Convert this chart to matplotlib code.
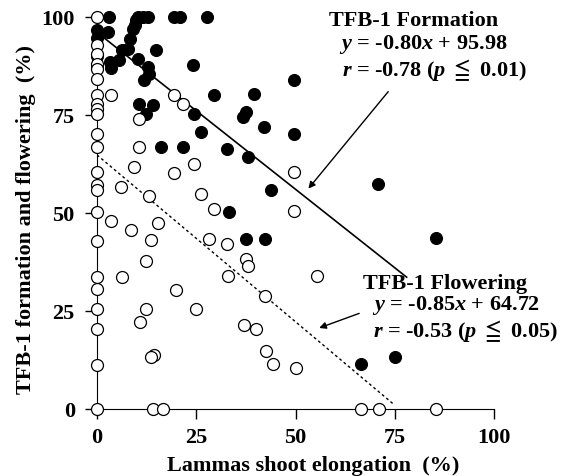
import matplotlib
matplotlib.use('Agg')
import matplotlib.pyplot as plt

plt.rcParams['font.family'] = ['Liberation Serif', 'DejaVu Serif']
plt.rcParams['font.weight'] = 'bold'
plt.rcParams['mathtext.fontset'] = 'custom'
plt.rcParams['mathtext.rm'] = 'Liberation Serif:bold'
plt.rcParams['mathtext.it'] = 'Liberation Serif:bold:italic'
plt.rcParams['mathtext.bf'] = 'Liberation Serif:bold'
plt.rcParams['mathtext.fallback'] = 'stix'

# TFB-1 formation (filled circles)
form_x = [0, 0, 0, 0,
          3, 10.4, 11.7, 12.9, 19.3, 21, 27.7,
          2.8, 3.2, 3.6, 5.6, 6.2, 7.7, 8.2, 9, 9.5, 9.9,
          14.9, 10.2, 12.8, 13.2, 11.9,
          24.1, 29.5, 10.7, 14, 12.3, 24.5, 26.2, 16.1, 21.6, 32.8,
          49.7, 39.6, 36.7, 37.5, 42.1, 49.7, 38, 43.8, 33.3,
          70.7, 37.5, 42.4, 66.5, 85.4, 75.1]
form_y = [96.5, 94.5, 90, 87.5,
          100, 100, 100, 100, 100, 100, 100,
          96, 88.4, 87, 88.8, 91.4, 91.8, 94.3, 96.9, 97.8, 99,
          91.4, 89.3, 87.1, 85.4, 83.7,
          87.6, 79.9, 77.8, 77.4, 75.2, 75.2, 70.6, 66.8, 66.8, 66.3,
          83.7, 80.2, 74.4, 75.6, 71.8, 70.1, 64.2, 55.9, 50.2,
          57.4, 43.3, 43.3, 11.5, 43.5, 13.2]

# TFB-1 flowering (open circles)
flow_x = [0] * 23 + [
    3.5, 19.5, 21.6, 10.7, 10.7, 24.5, 9.4, 19.5, 6, 13.2, 26.2, 29.5, 49.7, 49.7,
    3.5, 8.6, 15.3, 13.6, 12.3, 6.3, 19.9, 12.3, 10.9, 24.9, 14.4, 13.6,
    14, 16.5, 28.3, 32.7, 37.5, 38, 32.9, 55.5, 42.4, 37.1, 40, 42.6, 44.3, 50,
    66.5, 71.1, 85.4]
flow_y = [100, 92.7, 90.5, 88, 86.7, 84.2, 79.9, 77.8, 76.5, 75.2, 70.1, 66.8,
          60.4, 57, 55.7, 50.1, 42.9, 33.6, 30.6, 25.5, 20.4, 11.2, 0] + [
    79.9, 79.9, 77.8, 74, 66.8, 62.5, 61.7, 60.2, 56.6, 54.2, 54.9, 51, 60.4, 50.5,
    48, 45.7, 47.4, 43.1, 37.8, 33.7, 30.3, 25.5, 22.2, 25.5, 13.8, 13.2,
    0, 0, 43.3, 42, 38.2, 36.5, 34, 34, 28.9, 21.4, 20.4, 14.9, 11.5, 10.4,
    0, 0, 0]

# regression lines: slope, intercept, x range
form_fit = (-0.80, 95.98)
form_xr = [0, 78]
flow_fit = (-0.85, 64.72)
flow_xr = [0, 75]

ticks = [0, 25, 50, 75, 100]

fig = plt.figure(figsize=(5.68, 4.77), dpi=100)
ax = fig.add_axes([0.1708, 0.1405, 0.6989, 0.8228])

ax.plot(form_xr, [form_fit[0] * v + form_fit[1] for v in form_xr],
        color='black', lw=1.2, zorder=2)
ax.plot(flow_xr, [flow_fit[0] * v + flow_fit[1] for v in flow_xr],
        color='black', lw=1.0, ls=(0, (2, 2)), zorder=2)

ax.plot(form_x, form_y, 'o', ms=8.6, mfc='black', mec='black', mew=0.8,
        clip_on=False, zorder=3)
ax.plot(flow_x, flow_y, 'o', ms=8.6, mfc='white', mec='black', mew=0.9,
        clip_on=False, zorder=4)

ax.set_xlim(0, 100)
ax.set_ylim(0, 100)
ax.set_xticks(ticks)
ax.set_yticks(ticks)
ax.spines['top'].set_visible(False)
ax.spines['right'].set_visible(False)
ax.tick_params(direction='out', width=1, labelsize=16)
ax.tick_params(axis='x', length=7, pad=6)
ax.tick_params(axis='y', length=9, pad=7)
for lab in ax.get_xticklabels() + ax.get_yticklabels():
    lab.set_fontweight('bold')

ax.set_xlabel('Lammas shoot elongation  (%)', fontsize=16, fontweight='bold',
              labelpad=6, x=0.544)
ax.set_ylabel('TFB-1 formation and flowering  (%)', fontsize=16,
              fontweight='bold', labelpad=4, y=0.485)

# annotation texts
ax.text(79.8, 99.2, 'TFB-1 Formation', fontsize=16, fontweight='bold',
        ha='center', va='center')
ax.text(61, 93.1, r'$y$ = -0.80$x$ + 95.98', fontsize=16, ha='left', va='center')
ax.text(61.7, 86.6, r'$r$ = -0.78 ($p$ $\leqq$ 0.01)', fontsize=16, ha='left',
        va='center')
ax.annotate('', xy=(52.8, 55.6), xytext=(73.8, 81.4),
            arrowprops=dict(arrowstyle='-|>', color='black', lw=1,
                            mutation_scale=10))

ax.text(87.8, 32.0, 'TFB-1 Flowering', fontsize=16, fontweight='bold',
        ha='center', va='center')
ax.text(69.2, 26.5, r'$y$ = -0.85$x$ + 64.72', fontsize=16, ha='left', va='center')
ax.text(69.5, 20.1, r'$r$ = -0.53 ($p$ $\leqq$ 0.05)', fontsize=16, ha='left',
        va='center')
ax.annotate('', xy=(55.3, 20.4), xytext=(66.7, 24.6),
            arrowprops=dict(arrowstyle='-|>', color='black', lw=1,
                            mutation_scale=10))

fig.savefig('out.png', dpi=100)
